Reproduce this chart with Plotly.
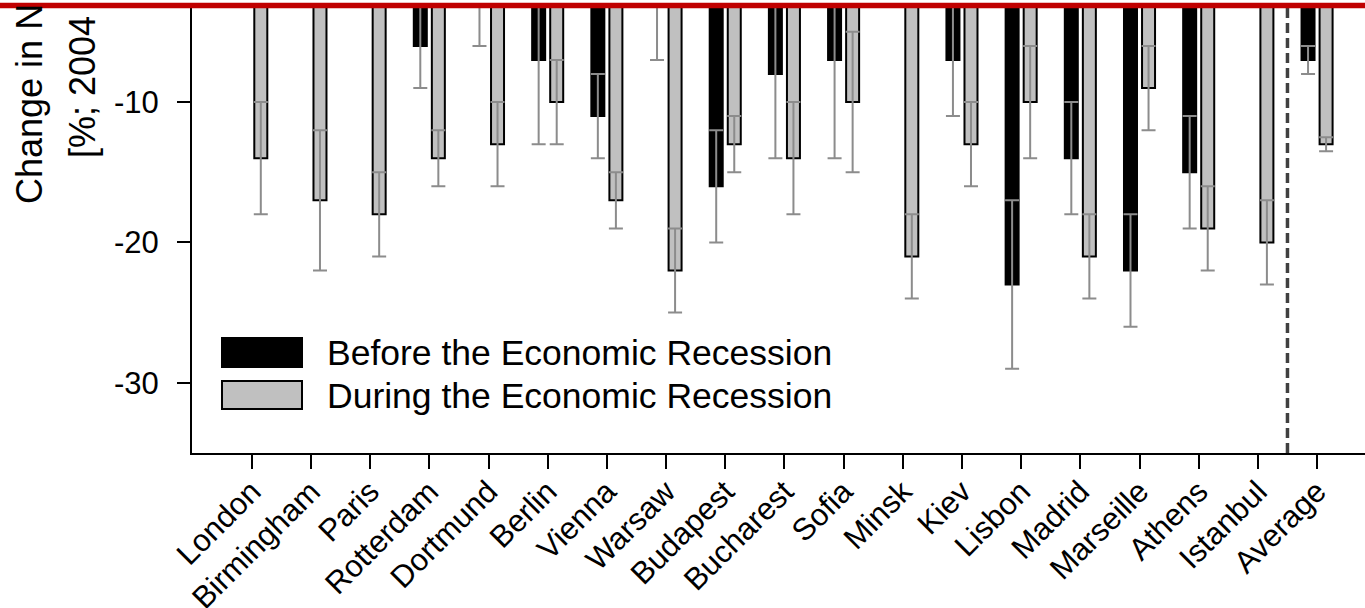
import plotly.graph_objects as go

cities = ["London", "Birmingham", "Paris", "Rotterdam", "Dortmund", "Berlin", "Vienna",
          "Warsaw", "Budapest", "Bucharest", "Sofia", "Minsk", "Kiev", "Lisbon", "Madrid",
          "Marseille", "Athens", "Istanbul", "Average"]
before = [None, None, None, -6, -2, -7, -11, -2, -16, -8, -7, None, -7, -23, -14, -22, -15, None, -7]
before_err = [None, None, None, 3, 4, 6, 3, 5, 4, 6, 7, None, 4, 6, 4, 4, 4, None, 1]
during = [-14, -17, -18, -14, -13, -10, -17, -22, -13, -14, -10, -21, -13, -10, -21, -9, -19, -20, -13]
during_err = [4, 5, 3, 2, 3, 3, 2, 3, 2, 4, 5, 3, 3, 4, 3, 3, 3, 3, 0.5]
legend_labels = ["Before the Economic Recession", "During the Economic Recession"]
y_ticks = [-10, -20, -30]

W, H = 1365, 608
ML, MR, MT, MB = 192, 0, 8, 155
PW, PH = W - ML - MR, H - MT - MB
FONT = "Arial, Liberation Sans, sans-serif"


def px(xp):
    return (xp - ML) / PW


def py(yp):
    return (H - MB - yp) / PH


x_idx = list(range(len(cities)))

fig = go.Figure()
fig.add_trace(go.Bar(
    x=x_idx, y=before, name=legend_labels[0], showlegend=False,
    marker=dict(color="#000000", line=dict(color="#000000", width=2)),
    error_y=dict(type="data", array=before_err, symmetric=True,
                 color="#8c8c8c", thickness=2, width=7),
))
fig.add_trace(go.Bar(
    x=x_idx, y=during, name=legend_labels[1], showlegend=False,
    marker=dict(color="#c0c0c0", line=dict(color="#000000", width=2)),
    error_y=dict(type="data", array=during_err, symmetric=True,
                 color="#8c8c8c", thickness=2, width=7),
))

shapes = [
    # dashed separator before Average
    dict(type="line", xref="x", yref="paper", x0=17.5, x1=17.5, y0=0, y1=1,
         line=dict(color="#404040", width=3.5, dash="10px,5px")),
    # red line at top
    dict(type="line", xref="paper", yref="paper", x0=px(0), x1=px(W), y0=py(5.6), y1=py(5.6),
         line=dict(color="#c00000", width=5.5)),
    # legend swatches
    dict(type="rect", xref="paper", yref="paper", x0=px(222), x1=px(302), y0=py(367), y1=py(338),
         fillcolor="#000000", line=dict(color="#000000", width=2)),
    dict(type="rect", xref="paper", yref="paper", x0=px(222), x1=px(302), y0=py(409), y1=py(381),
         fillcolor="#c0c0c0", line=dict(color="#000000", width=2)),
]

annotations = [
    dict(xref="paper", yref="paper", x=px(325), y=py(352.5), xanchor="left", yanchor="middle",
         text=legend_labels[0], showarrow=False, font=dict(size=35.5, color="#000", family=FONT)),
    dict(xref="paper", yref="paper", x=px(325), y=py(395.5), xanchor="left", yanchor="middle",
         text=legend_labels[1], showarrow=False, font=dict(size=35.5, color="#000", family=FONT)),
    dict(xref="paper", yref="paper", x=px(29), y=py(206), xanchor="center", yanchor="bottom",
         text="Change in N", textangle=-90, showarrow=False,
         font=dict(size=36, color="#000", family=FONT)),
    dict(xref="paper", yref="paper", x=px(82), y=py(160), xanchor="center", yanchor="bottom",
         text="[%; 2004", textangle=-90, showarrow=False,
         font=dict(size=36, color="#000", family=FONT)),
]

fig.update_layout(
    width=W, height=H,
    margin=dict(l=ML, r=MR, t=MT, b=MB, pad=0, autoexpand=False),
    paper_bgcolor="white", plot_bgcolor="white",
    barmode="group", bargap=0.39, bargroupgap=0.28,
    font=dict(family=FONT, color="#000"),
    shapes=shapes, annotations=annotations,
    showlegend=False,
)
fig.update_xaxes(
    range=[-1.01, 18.81], tickmode="array", tickvals=x_idx, ticktext=cities,
    tickangle=-45, ticks="outside", ticklen=14, tickwidth=2, tickcolor="#000",
    showline=True, linecolor="#000", linewidth=2, showgrid=False, zeroline=False,
    tickfont=dict(size=31, family=FONT, color="#000"), automargin=False,
    ticklabelstandoff=-8,
)
fig.update_yaxes(
    range=[-35, -3.3], tickmode="array", tickvals=y_ticks, ticktext=[str(v) for v in y_ticks],
    ticks="outside", ticklen=13, tickwidth=2, tickcolor="#000",
    showline=True, linecolor="#000", linewidth=2, showgrid=False, zeroline=False,
    tickfont=dict(size=31, family=FONT, color="#000"), ticklabelstandoff=12, automargin=False,
)

fig.write_html("out.html", config={"displayModeBar": False},
               post_script="document.body.style.margin='0px';")
